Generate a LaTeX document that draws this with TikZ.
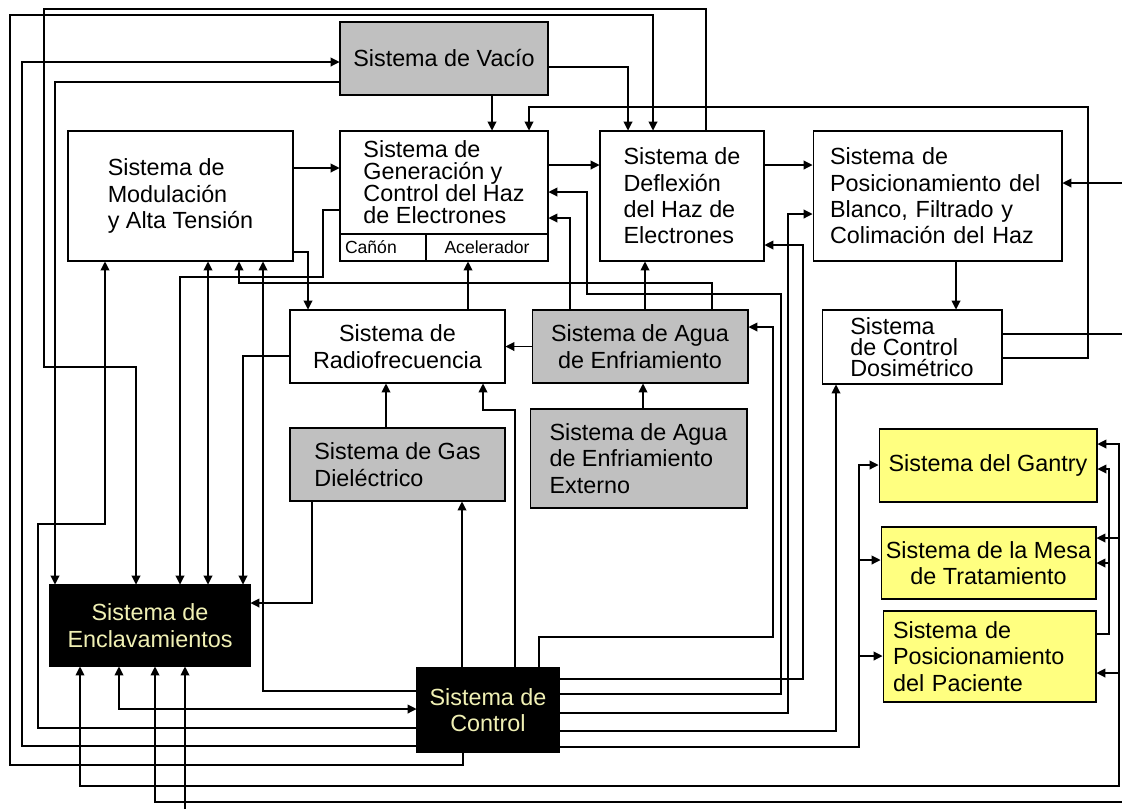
\documentclass[tikz,border=0pt]{standalone}
\usepackage{fontspec}
\setmainfont{Liberation Sans}
\usetikzlibrary{arrows.meta}
\definecolor{boxgray}{RGB}{192,192,192}
\definecolor{boxyellow}{RGB}{255,255,128}
\definecolor{softtext}{RGB}{240,240,180}
\begin{document}
\begin{tikzpicture}[
x=0.02cm,y=-0.02cm,
>={Triangle[length=5pt,width=5pt]},
sys/.style={draw,line width=0.6pt,inner sep=0pt,font=\fontsize{13.3}{15}\selectfont},
aux/.style={sys,fill=boxgray},
mech/.style={sys,fill=boxyellow},
core/.style={sys,fill=black,text=softtext},
part/.style={sys,font=\fontsize{10}{12}\selectfont},
link/.style={line width=0.6pt},
flow/.style={link,->},
twoway/.style={link,<->},
]
\useasboundingbox (0,0) rectangle (1122,809);
\node[aux,minimum width=4.16cm,minimum height=1.46cm] (vacio) at (444,58.5) {Sistema de Vacío};
\node[sys,minimum width=4.5cm,minimum height=2.6cm,align=left] (modul) at (180.5,196)
    {Sistema de\\Modulación\\y Alta Tensión};
\node[sys,minimum width=4.16cm,minimum height=2.06cm,align=left,font=\fontsize{13.3}{12.5}\selectfont] (gen) at (444,182.5)
    {Sistema de\\Generación y\\Control del Haz\\de Electrones};
\node[part,minimum width=1.72cm,minimum height=0.54cm,text width=1.52cm,align=left] (canon) at (383,247.5) {Cañón};
\node[part,minimum width=2.44cm,minimum height=0.54cm] (acel) at (487,247.5) {Acelerador};
\node[sys,minimum width=3.28cm,minimum height=2.6cm,align=left] (defl) at (682,196)
    {Sistema de\\Deflexión\\del Haz de\\Electrones};
\node[sys,minimum width=4.98cm,minimum height=2.6cm,text width=4.3cm,align=left] (posb) at (937.5,196)
    {Sistema de\\Posicionamiento del\\Blanco, Filtrado y\\Colimación del Haz};
\node[sys,minimum width=4.3cm,minimum height=1.46cm,align=center] (radio) at (397.5,346.5)
    {Sistema de\\Radiofrecuencia};
\node[aux,minimum width=4.32cm,minimum height=1.46cm,align=center] (agua) at (640,346.5)
    {Sistema de Agua\\de Enfriamiento};
\node[aux,minimum width=4.3cm,minimum height=1.46cm,align=left] (gas) at (397.5,464.5)
    {Sistema de Gas\\Dieléctrico};
\node[aux,minimum width=4.34cm,minimum height=1.98cm,align=left] (aguaext) at (638.5,458.5)
    {Sistema de Agua\\de Enfriamiento\\Externo};
\node[sys,minimum width=3.6cm,minimum height=1.48cm,align=left,font=\fontsize{13.3}{12}\selectfont] (dosim) at (912,347)
    {Sistema\\de Control\\Dosimétrico};
\node[mech,minimum width=4.36cm,minimum height=1.46cm] (gantry) at (988,465.5) {Sistema del Gantry};
\node[mech,minimum width=4.3cm,minimum height=1.44cm,align=center] (mesa) at (988.5,563)
    {Sistema de la Mesa\\de Tratamiento};
\node[mech,minimum width=4.26cm,minimum height=1.82cm,text width=3.86cm,align=left] (pac) at (989.5,656.5)
    {Sistema de\\Posicionamiento\\del Paciente};
\node[core,minimum width=4cm,minimum height=1.62cm,align=center] (encl) at (150,625.5)
    {Sistema de\\Enclavamientos};
\node[core,minimum width=2.84cm,minimum height=1.68cm,align=center] (ctrl) at (488,710)
    {Sistema de\\Control};
\coordinate (outA) at (1122,334);
\coordinate (outB) at (1122,183);
\coordinate (outC) at (1122,802);
\coordinate (outD) at (185,809);
\draw[flow] (vacio.south -| 492,0) -- (gen.north -| 492,0);
\draw[flow] (vacio.east |- 0,67) -| (defl.north -| 628,0);
\draw[flow] (ctrl.south -| 463,0) |- (10,765) |- (653,15) -- (defl.north -| 653,0);
\draw[flow] (defl.north -| 706,0) |- (44,9) |- (136,367) -- (encl.north -| 136,0);
\draw[flow] (ctrl.west |- 0,746) -| (22,62) -- (vacio.west |- 0,62);
\draw[flow] (vacio.west |- 0,82) -| (encl.north -| 55,0);
\draw[flow] (dosim.east |- 0,358) -| (1088,107) -| (gen.north -| 529,0);
\draw[link] (dosim.east |- outA) -- (outA);
\draw[flow] (outB) -- (posb.east |- outB);
\draw[flow] (gen.east |- 0,165) -- (defl.west |- 0,165);
\draw[flow] (defl.east |- 0,165) -- (posb.west |- 0,165);
\draw[flow] (posb.south -| 956,0) -- (dosim.north -| 956,0);
\draw[flow] (modul.east |- 0,168) -- (gen.west |- 0,168);
\draw[flow] (modul.east |- 0,252) -| (radio.north -| 308,0);
\draw[flow] (gen.west |- 0,210) -| (323,277) -| (encl.north -| 180,0);
\draw[twoway] (modul.south -| 208,0) -- (encl.north -| 208,0);
\draw[flow] (agua.north -| 712,0) |- (239,283) -- (modul.south -| 239,0);
\draw[flow] (ctrl.west |- 0,691) -| (modul.south -| 263,0);
\draw[flow] (radio.west |- 0,356) -| (encl.north -| 243,0);
\draw[flow] (radio.north -| 468,0) -- (acel.south -| 468,0);
\draw[flow] (agua.west) -- (radio.east);
\draw[flow] (gas.north -| 386,0) -- (radio.south -| 386,0);
\draw[flow] (aguaext.north -| 643,0) -- (agua.south -| 643,0);
\draw[flow] (agua.north -| 645,0) -- (defl.south -| 645,0);
\draw[flow] (agua.north -| 570,0) |- (gen.east |- 0,218);
\draw[flow] (ctrl.east |- 0,694) -| (781,294) -| (587,192) -- (gen.east |- 0,192);
\draw[flow] (ctrl.east |- 0,679) -| (803,245) -- (defl.east |- 0,245);
\draw[flow] (ctrl.east |- 0,713) -| (788,214) -- (posb.west |- 0,214);
\draw[flow] (ctrl.east |- 0,731) -| (dosim.south -| 836,0);
\draw[flow] (ctrl.east |- 0,747) -| (859,465) -- (gantry.west |- 0,465);
\draw[flow] (859,560) -- (mesa.west |- 0,560);
\draw[flow] (859,656) -- (pac.west |- 0,656);
\draw[flow] (ctrl.north -| 539,0) |- (773,637) |- (agua.east |- 0,327);
\draw[flow] (ctrl.north -| 462,0) -- (gas.south -| 462,0);
\draw[flow] (ctrl.north -| 515,0) |- (483,410) -- (radio.south -| 483,0);
\draw[flow] (gas.south -| 312,0) |- (encl.east |- 0,603);
\draw[flow] (ctrl.west |- 0,728) -| (38,524) -| (modul.south -| 105,0);
\draw[twoway] (encl.south -| 119,0) |- (ctrl.west |- 0,709);
\draw[twoway] (encl.south -| 80,0) |- (1119,786) |- (gantry.east |- 0,444);
\draw[flow] (1119,538) -- (mesa.east |- 0,538);
\draw[flow] (1119,673) -- (pac.east |- 0,673);
\draw[flow] (pac.east |- 0,634) -| (1109,469) -- (gantry.east |- 0,469);
\draw[flow] (1109,563) -- (mesa.east |- 0,563);
\draw[flow] (outC) -| (encl.south -| 155,0);
\draw[flow] (outD) -- (encl.south -| 185,0);
\end{tikzpicture}
\end{document}
